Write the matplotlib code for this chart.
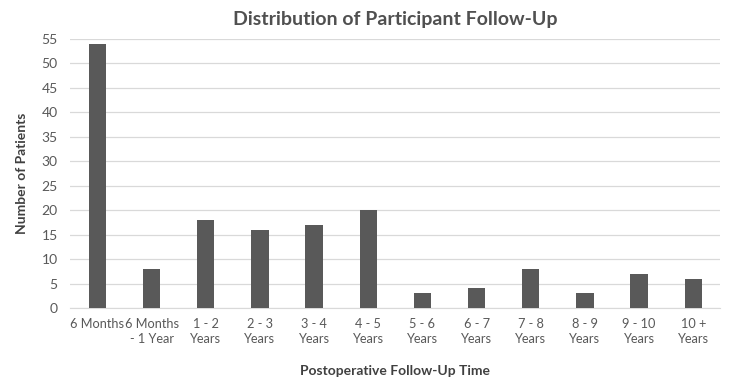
import matplotlib
matplotlib.use("Agg")
import matplotlib.pyplot as plt

categories = ["6 Months", "6 Months\n- 1 Year", "1 - 2\nYears", "2 - 3\nYears",
              "3 - 4\nYears", "4 - 5\nYears", "5 - 6\nYears", "6 - 7\nYears",
              "7 - 8\nYears", "8 - 9\nYears", "9 - 10\nYears", "10 +\nYears"]
patients = [54, 8, 18, 16, 17, 20, 3, 4, 8, 3, 7, 6]
yticks = list(range(0, 60, 5))

plt.rcParams['font.family'] = ['Lato', 'DejaVu Sans']

fig = plt.figure(figsize=(7.48, 3.85), dpi=100)
ax = fig.add_axes([0.094, 0.2, 0.869, 0.699])

x = list(range(len(categories)))
ax.bar(x, patients, width=0.32, color="#595959", zorder=3)

ax.set_xlim(-0.5, len(categories) - 0.5)
ax.set_ylim(0, 55)
ax.set_yticks(yticks)
ax.set_xticks(x)
ax.set_xticklabels(categories, fontsize=9.2, color="#595959", linespacing=1.35)
ax.tick_params(axis="y", labelsize=10, labelcolor="#595959", length=0, pad=9)
ax.tick_params(axis="x", length=0, pad=7)
ax.grid(axis="y", color="#d9d9d9", linewidth=0.9, zorder=0)
for s in ["top", "right", "left"]:
    ax.spines[s].set_visible(False)
ax.spines["bottom"].set_color("#d9d9d9")

ax.set_title("Distribution of Participant Follow-Up", fontsize=14, fontweight="bold",
             color="#505050", pad=10)
ax.set_ylabel("Number of Patients", fontsize=10, fontweight="bold", color="#404040", labelpad=10)
ax.set_xlabel("Postoperative Follow-Up Time", fontsize=10, fontweight="bold", color="#404040", labelpad=14)

fig.savefig("out.png", dpi=100)
